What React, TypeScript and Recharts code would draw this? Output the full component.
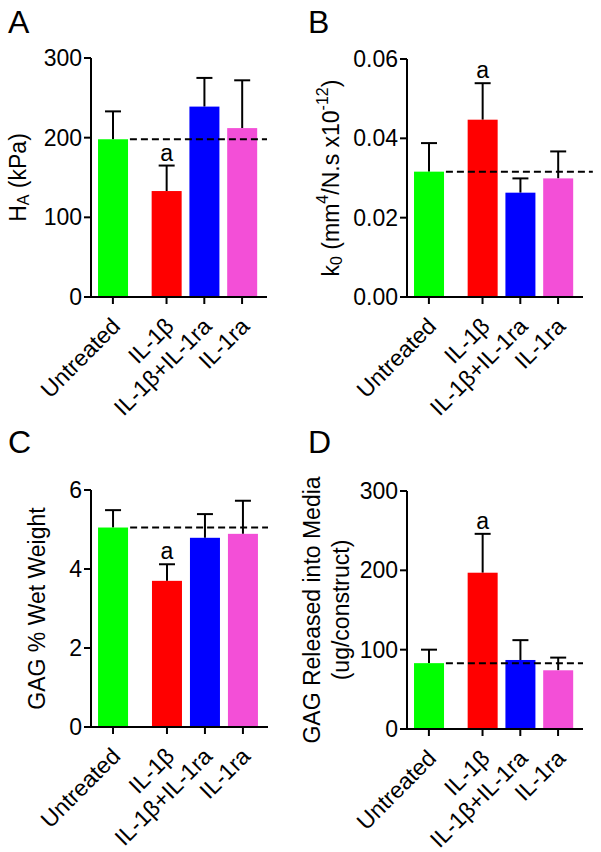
import { BarChart, Bar, XAxis, YAxis, ReferenceLine } from 'recharts'

const categories = ['Untreated', 'IL-1β', 'IL-1β+IL-1ra', 'IL-1ra']
const marks = ['', 'a', '', '']

const hA = [198, 133, 239, 212]
const hAErr = [35, 32, 36, 60]
const k0 = [0.0316, 0.0447, 0.0263, 0.0299]
const k0Err = [0.0072, 0.0092, 0.0036, 0.0068]
const gagWet = [5.05, 3.7, 4.79, 4.89]
const gagWetErr = [0.44, 0.42, 0.6, 0.84]
const gagMedia = [83, 197, 87, 74]
const gagMediaErr = [17, 49, 25, 16]

const ticksA = [0, 100, 200, 300]
const ticksB = [0, 0.02, 0.04, 0.06]
const ticksC = [0, 2, 4, 6]
const ticksD = [0, 100, 200, 300]

// layout: slot positions on a numeric x axis (Prism leaves a gap after "Untreated")
const slots = [0, 1.42, 2.42, 3.42]
const xDomain = [-0.58, 4.08]
const colors = ['#00ff00', '#ff0000', '#0000ff', '#f34fd7']
const FONT = '"Liberation Sans", Arial, sans-serif'
const TICK_FS = 23
const LABEL_FS = 23

function barShape(props: any) {
  const { x, y, width, height, index, payload } = props
  const cx = x + width / 2
  const errPx = payload.value ? (height * payload.err) / payload.value : 0
  const top = y - errPx
  return (
    <g>
      <line x1={cx} y1={y} x2={cx} y2={top} stroke="#000" strokeWidth={2} />
      <line x1={cx - 8} y1={top} x2={cx + 8} y2={top} stroke="#000" strokeWidth={2} />
      <rect x={x} y={y} width={width} height={height} fill={colors[index]} />
      {payload.mark ? (
        <text x={cx} y={top - 5} textAnchor="middle" fontSize={TICK_FS} fontFamily={FONT} fill="#000">
          {payload.mark}
        </text>
      ) : null}
    </g>
  )
}

function CatTick(props: any) {
  const { x, y, payload } = props
  const i = slots.indexOf(payload.value)
  const ax = x + 3
  const ay = y + 16
  return (
    <text
      x={ax}
      y={ay}
      dy="0.35em"
      textAnchor="end"
      transform={`rotate(-45, ${ax}, ${ay})`}
      fontSize={TICK_FS}
      fontFamily={FONT}
      fill="#000"
    >
      {categories[i]}
    </text>
  )
}

type PanelProps = {
  letter: string
  left: number
  top: number
  width: number
  height: number
  margin: { top: number; right: number; bottom: number; left: number }
  yWidth: number
  values: number[]
  errs: number[]
  ticks: number[]
  fmt?: (v: number) => string
  lineEnd: number
  label: (cy: number) => any
}

function Panel(p: PanelProps) {
  const data = categories.map((name, i) => ({
    name,
    pos: slots[i],
    value: p.values[i],
    err: p.errs[i],
    mark: marks[i],
  }))
  const base = p.values[0]
  const axisStyle = { stroke: '#000', strokeWidth: 2 }
  return (
    <div style={{ position: 'absolute', left: p.left, top: p.top, width: p.width, height: p.height }}>
      <div
        style={{
          position: 'absolute',
          left: 8,
          top: 1,
          fontFamily: FONT,
          fontSize: 32,
          lineHeight: '42px',
          color: '#000',
        }}
      >
        {p.letter}
      </div>
      <BarChart width={p.width} height={p.height} data={data} margin={p.margin}>
        <XAxis
          type="number"
          dataKey="pos"
          domain={xDomain}
          allowDataOverflow
          ticks={slots}
          interval={0}
          tickSize={7}
          tickMargin={2}
          height={120}
          axisLine={axisStyle}
          tickLine={axisStyle}
          tick={<CatTick />}
        />
        <YAxis
          type="number"
          domain={[p.ticks[0], p.ticks[p.ticks.length - 1]]}
          ticks={p.ticks}
          interval={0}
          width={p.yWidth}
          tickSize={7}
          tickMargin={2}
          axisLine={axisStyle}
          tickLine={axisStyle}
          tickFormatter={p.fmt}
          tick={{ fill: '#000', fontSize: TICK_FS, fontFamily: FONT }}
          label={{
            content: (lp: any) => {
              const vb = lp.viewBox || {}
              return p.label(vb.y + vb.height / 2)
            },
          }}
        />
        <Bar dataKey="value" barSize={30} shape={barShape} isAnimationActive={false} />
        <ReferenceLine
          segment={[
            { x: 0.45, y: base },
            { x: p.lineEnd, y: base },
          ]}
          ifOverflow="visible"
          stroke="#000"
          strokeWidth={2}
          strokeDasharray="7 4"
        />
      </BarChart>
    </div>
  )
}

function vLabel(cx: number, cy: number, children: any) {
  return (
    <text
      x={cx}
      y={cy}
      textAnchor="middle"
      dominantBaseline="central"
      transform={`rotate(-90, ${cx}, ${cy})`}
      fontSize={LABEL_FS}
      fontFamily={FONT}
      fill="#000"
    >
      {children}
    </text>
  )
}

export default function App() {
  return (
    <div style={{ position: 'absolute', left: 0, top: 0, width: 601, height: 852, background: '#fff' }}>
      <Panel
        letter="A"
        left={0}
        top={0}
        width={300}
        height={420}
        margin={{ top: 58, right: 33, bottom: 3, left: 31 }}
        yWidth={60}
        values={hA}
        errs={hAErr}
        ticks={ticksA}
        lineEnd={4.08}
        label={(cy) =>
          vLabel(18, cy, [
            <tspan key="1">H</tspan>,
            <tspan key="2" dy={5} fontSize={16}>A</tspan>,
            <tspan key="3" dy={-5}> (kPa)</tspan>,
          ])
        }
      />
      <Panel
        letter="B"
        left={300}
        top={0}
        width={301}
        height={420}
        margin={{ top: 59, right: 18, bottom: 3, left: 31 }}
        yWidth={76}
        values={k0}
        errs={k0Err}
        ticks={ticksB}
        fmt={(v) => v.toFixed(2)}
        lineEnd={4.34}
        label={(cy) =>
          vLabel(31, cy, [
            <tspan key="1">k</tspan>,
            <tspan key="2" dy={5} fontSize={16}>0</tspan>,
            <tspan key="3" dy={-5}> (mm</tspan>,
            <tspan key="4" dy={-9} fontSize={16}>4</tspan>,
            <tspan key="5" dy={9}>/N.s x10</tspan>,
            <tspan key="6" dy={-9} fontSize={16}>-12</tspan>,
            <tspan key="7" dy={9}>)</tspan>,
          ])
        }
      />
      <Panel
        letter="C"
        left={0}
        top={420}
        width={300}
        height={432}
        margin={{ top: 70, right: 32, bottom: 5, left: 31 }}
        yWidth={60}
        values={gagWet}
        errs={gagWetErr}
        ticks={ticksC}
        lineEnd={4.08}
        label={(cy) => vLabel(37, cy, 'GAG % Wet Weight')}
      />
      <Panel
        letter="D"
        left={300}
        top={420}
        width={301}
        height={432}
        margin={{ top: 71, right: 18, bottom: 3, left: 31 }}
        yWidth={76}
        values={gagMedia}
        errs={gagMediaErr}
        ticks={ticksD}
        lineEnd={4.08}
        label={(cy) => (
          <g>
            {vLabel(12, cy, 'GAG Released into Media')}
            {vLabel(41, cy, '(ug/construct)')}
          </g>
        )}
      />
    </div>
  )
}
